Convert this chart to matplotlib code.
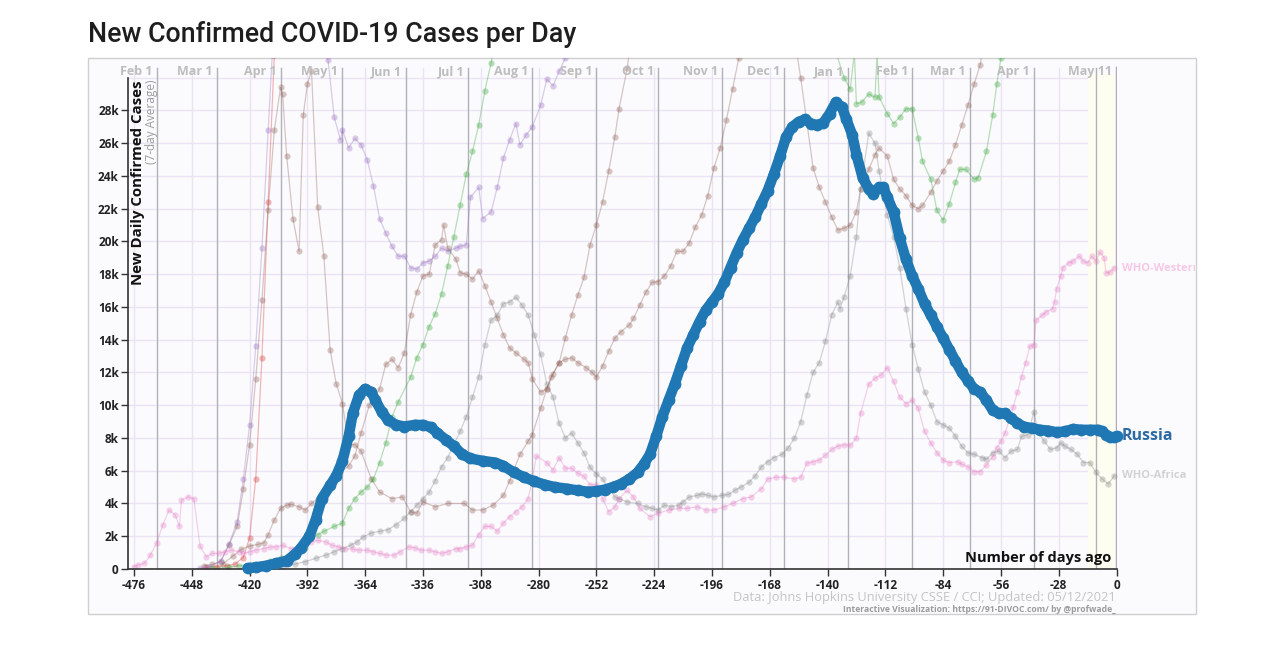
import matplotlib
matplotlib.use('Agg')
import matplotlib.pyplot as plt
from matplotlib.patches import Rectangle
from matplotlib.transforms import Bbox, TransformedBbox

plt.rcParams['font.family'] = ['Open Sans', 'DejaVu Sans']

# ---- data: (days ago, new cases per day in thousands, 7-day avg) ----
russia = [(-421, 0.05), (-417, 0.1), (-412, 0.2), (-407, 0.35), (-402, 0.5), (-398, 0.9),
          (-395, 1.3), (-391, 2.0), (-388, 3.0), (-385, 4.3), (-381, 5.1), (-378, 5.7),
          (-375, 6.6), (-372, 8.1), (-370, 9.5), (-367, 10.6), (-364, 11.0), (-361, 10.8),
          (-359, 10.3), (-356, 9.6), (-353, 9.1), (-349, 8.8), (-345, 8.7), (-340, 8.8),
          (-336, 8.8), (-332, 8.65), (-329, 8.3), (-325, 7.9), (-321, 7.5), (-317, 7.0),
          (-313, 6.75), (-307, 6.6), (-301, 6.5), (-297, 6.3), (-292, 5.9), (-287, 5.6),
          (-282, 5.35), (-277, 5.15), (-272, 5.0), (-266, 4.9), (-261, 4.8), (-256, 4.72),
          (-252, 4.75), (-248, 4.85), (-244, 5.0), (-240, 5.2), (-236, 5.5), (-232, 5.9),
          (-229, 6.4), (-226, 7.0), (-223, 8.1), (-220, 9.3), (-217, 10.3), (-214, 11.3),
          (-211, 12.4), (-208, 13.5), (-205, 14.3), (-202, 15.1), (-199, 15.8), (-196, 16.3),
          (-193, 16.8), (-190, 17.5), (-187, 18.4), (-184, 19.3), (-181, 20.1), (-178, 20.8),
          (-175, 21.5), (-172, 22.3), (-169, 23.1), (-166, 24.1), (-163, 25.2), (-160, 26.4),
          (-157, 27.0), (-154, 27.3), (-151, 27.45), (-148, 27.2), (-145, 27.1), (-142, 27.25),
          (-139, 27.8), (-136, 28.5), (-133, 28.2), (-131, 27.5), (-128, 26.5), (-126, 25.3),
          (-123, 23.9), (-120, 23.2), (-118, 22.9), (-115, 23.3), (-113, 23.3), (-111, 22.7),
          (-108, 21.8), (-105, 20.2), (-102, 18.9), (-99, 17.9), (-96, 17.1), (-93, 16.2),
          (-90, 15.5), (-87, 14.8), (-84, 14.1), (-81, 13.4), (-78, 12.7), (-75, 12.0),
          (-72, 11.5), (-69, 11.0), (-66, 10.8), (-63, 10.3), (-60, 9.7), (-57, 9.5),
          (-54, 9.5), (-51, 9.2), (-48, 8.9), (-45, 8.7), (-41, 8.6), (-37, 8.5), (-33, 8.45),
          (-29, 8.35), (-25, 8.4), (-21, 8.55), (-17, 8.5), (-13, 8.5), (-9, 8.5), (-7, 8.4),
          (-5, 8.2), (-3, 8.05), (-1, 8.05), (0, 8.1)]

red_series = [(-441, 0.1), (-436, 0.15), (-431, 0.2), (-427, 0.3), (-423, 0.7), (-420, 1.9),
              (-417, 5.5), (-414, 12.9), (-411, 22.4), (-408, 31.4), (-400, 40.0)]

brown_a = [(-442, 0.2), (-438, 0.28), (-434, 0.45), (-430, 1.47), (-426, 2.6), (-423, 4.9),
           (-420, 7.6), (-417, 11.6), (-414, 16.4), (-411, 21.9), (-408, 26.8), (-405, 29.4),
           (-404, 29.0), (-402, 25.2), (-399, 21.4), (-396, 19.4), (-394, 27.7), (-392, 29.6),
           (-390, 30.4), (-387, 22.1), (-384, 19.1), (-381, 13.4), (-378, 11.3), (-375, 10.1),
           (-372, 7.6), (-369, 7.6), (-366, 7.2), (-361, 5.5), (-357, 4.7), (-351, 4.3),
           (-346, 4.4), (-342, 3.5), (-339, 3.4), (-336, 4.1), (-330, 3.8), (-324, 4.0),
           (-316, 4.0), (-312, 3.6), (-307, 3.6), (-302, 3.9), (-297, 4.5), (-294, 5.4),
           (-289, 7.0), (-285, 7.8), (-283, 8.2), (-279, 9.8), (-276, 11.0), (-274, 11.7),
           (-270, 12.6), (-267, 14.1), (-264, 15.5), (-261, 16.7), (-258, 17.8), (-255, 19.8),
           (-252, 21.0), (-249, 22.4), (-246, 24.3), (-243, 26.4), (-241, 28.1), (-237, 30.6),
           (-230, 38.0)]

brown_b = [(-433, 0.3), (-428, 0.8), (-424, 1.2), (-420, 1.4), (-416, 1.5), (-413, 1.6),
           (-411, 2.1), (-408, 3.0), (-405, 3.7), (-402, 3.9), (-400, 3.95), (-396, 3.8),
           (-393, 3.6), (-390, 4.0), (-387, 4.3), (-380, 5.0), (-376, 5.9), (-372, 6.3),
           (-369, 6.9), (-366, 8.3), (-362, 10.0), (-357, 11.0), (-354, 12.5), (-351, 12.8),
           (-348, 12.3), (-345, 13.2), (-342, 15.5), (-339, 16.9), (-336, 17.9), (-333, 18.0),
           (-330, 19.8), (-327, 20.1), (-326, 21.0), (-324, 19.6), (-320, 18.9), (-318, 18.1),
           (-315, 18.0), (-312, 17.7), (-309, 18.2), (-306, 17.3), (-303, 16.3), (-300, 15.3),
           (-297, 14.3), (-294, 13.5), (-291, 13.2), (-287, 12.8), (-285, 12.6), (-283, 11.6),
           (-279, 10.8), (-276, 11.0), (-273, 11.9), (-270, 12.6), (-267, 12.8), (-264, 12.9),
           (-261, 12.6), (-257, 12.3), (-254, 12.0), (-252, 11.7), (-249, 12.4), (-246, 13.3),
           (-243, 14.1), (-240, 14.5), (-236, 14.9), (-234, 15.3), (-231, 16.1), (-228, 16.9),
           (-225, 17.5), (-222, 17.55), (-219, 17.9), (-216, 18.5), (-213, 19.4), (-210, 19.4),
           (-207, 19.9), (-204, 20.9), (-201, 21.6), (-198, 22.8), (-195, 24.5), (-192, 25.7),
           (-189, 27.4), (-186, 29.3), (-183, 31.2), (-175, 38.0), (-165, 40.0), (-158, 34.0),
           (-153, 30.0), (-147, 24.5), (-144, 23.3), (-141, 22.4), (-138, 21.5), (-135, 20.7),
           (-132, 20.8), (-129, 21.0), (-126, 21.8), (-124, 23.2), (-120, 24.4), (-117, 25.3),
           (-115, 25.7), (-111, 25.2), (-108, 23.8), (-105, 23.2), (-102, 22.8), (-99, 22.2),
           (-96, 22.0), (-94, 22.2), (-90, 23.0), (-87, 23.7), (-84, 24.3), (-81, 24.9),
           (-78, 25.9), (-75, 27.1), (-72, 28.3), (-69, 29.6), (-66, 30.8), (-60, 36.0)]

purple_series = [(-444, 0.05), (-440, 0.1), (-434, 0.5), (-430, 1.5), (-426, 2.9), (-423, 5.5),
                 (-420, 8.8), (-417, 13.6), (-414, 19.6), (-411, 26.8), (-409, 31.4),
                 (-400, 38.0), (-390, 36.0), (-382, 31.1), (-379, 27.6), (-376, 26.2),
                 (-375, 26.8), (-372, 25.7), (-369, 26.3), (-366, 25.9), (-363, 25.0),
                 (-360, 23.4), (-357, 21.4), (-354, 20.5), (-351, 19.7), (-348, 19.1),
                 (-345, 19.1), (-342, 18.4), (-339, 18.3), (-336, 18.7), (-333, 18.8),
                 (-330, 19.1), (-327, 19.6), (-324, 19.4), (-320, 19.6), (-318, 19.7),
                 (-315, 19.8), (-313, 22.7), (-309, 23.3), (-307, 21.4), (-303, 21.8),
                 (-300, 23.3), (-297, 25.1), (-294, 26.2), (-291, 27.2), (-289, 25.9),
                 (-286, 26.5), (-283, 27.0), (-279, 28.3), (-276, 29.9), (-273, 29.5),
                 (-270, 30.4), (-267, 31.2), (-255, 36.0)]

green_series = [(-438, 0.05), (-430, 0.1), (-425, 0.2), (-420, 0.25), (-415, 0.3), (-410, 0.5),
                (-405, 0.7), (-400, 0.9), (-396, 1.1), (-393, 1.3), (-390, 1.9), (-387, 2.1),
                (-384, 2.3), (-379, 2.6), (-375, 2.8), (-372, 3.7), (-369, 4.3), (-366, 4.7),
                (-363, 5.0), (-360, 5.5), (-357, 6.5), (-354, 7.7), (-351, 9.3), (-348, 10.2),
                (-342, 11.7), (-339, 12.9), (-336, 13.7), (-333, 14.8), (-330, 15.6),
                (-327, 16.8), (-324, 18.5), (-321, 20.3), (-318, 22.2), (-315, 24.1),
                (-312, 25.5), (-309, 27.1), (-306, 29.2), (-303, 30.9), (-290, 40.0),
                (-145, 40.0), (-137, 32.0), (-132, 30.0), (-129, 29.3), (-127, 31.5),
                (-126, 28.4), (-123.5, 28.5), (-120, 29.0), (-117, 28.8), (-116, 31.5),
                (-115, 28.8), (-111, 27.8), (-108, 27.2), (-105, 27.6), (-102, 28.1),
                (-99, 28.1), (-96, 26.3), (-94, 24.9), (-90, 23.8), (-87, 21.9), (-84, 21.3),
                (-81, 22.3), (-78, 23.6), (-76, 24.4), (-73, 24.4), (-69, 23.8), (-67, 23.9),
                (-63, 25.5), (-60, 27.7), (-58, 29.6), (-56, 31.2), (-50, 36.0)]

grey_series = [(-410, 0.1), (-404, 0.2), (-398, 0.3), (-393, 0.45), (-388, 0.65), (-383, 0.85),
               (-379, 1.05), (-375, 1.25), (-371, 1.45), (-368, 1.65), (-365, 1.95), (-361, 2.2),
               (-357, 2.3), (-353, 2.4), (-349, 2.7), (-345, 3.1), (-342, 3.5), (-339, 3.9),
               (-336, 4.3), (-333, 4.7), (-330, 5.4), (-327, 6.25), (-324, 6.8), (-318, 8.4),
               (-315, 9.3), (-312, 10.5), (-309, 11.7), (-306, 13.7), (-303, 15.2),
               (-300, 15.5), (-297, 16.2), (-294, 16.3), (-291, 16.6), (-288, 16.1),
               (-285, 15.5), (-282, 14.3), (-279, 13.1), (-276, 11.3), (-273, 10.5),
               (-270, 8.9), (-267, 8.0), (-264, 8.3), (-261, 7.7), (-258, 7.1), (-255, 6.2),
               (-252, 5.8), (-249, 5.5), (-246, 4.9), (-243, 4.4), (-241, 4.3), (-237, 4.1),
               (-232, 4.0), (-228, 3.8), (-225, 3.7), (-222, 3.6), (-219, 3.9), (-216, 3.8),
               (-212, 3.9), (-210, 4.1), (-207, 4.4), (-203, 4.5), (-201, 4.6), (-198, 4.5),
               (-195, 4.4), (-191, 4.5), (-188, 4.55), (-185, 4.8), (-182, 5.0), (-178, 5.3),
               (-175, 5.7), (-172, 6.25), (-169, 6.55), (-166, 6.8), (-162, 7.0), (-159, 7.4),
               (-156, 8.0), (-153, 9.0), (-150, 10.6), (-147, 12.0), (-144, 12.6),
               (-141, 13.9), (-138, 15.5), (-135, 16.3), (-134, 15.9), (-132, 16.6),
               (-129, 17.9), (-126, 20.3), (-124, 23.2), (-120, 26.6), (-117, 26.0),
               (-115, 24.3), (-111, 21.6), (-108, 20.3), (-105, 18.4), (-102, 15.9),
               (-99, 13.7), (-96, 12.2), (-93, 10.8), (-90, 10.0), (-87, 9.0), (-84, 8.8),
               (-81, 8.6), (-78, 8.1), (-75, 7.5), (-72, 7.1), (-69, 7.0), (-65, 6.8),
               (-63, 6.7), (-60, 7.1), (-57, 7.2), (-54, 6.8), (-51, 7.2), (-48, 7.3),
               (-46, 8.1), (-43, 8.2), (-40, 9.6), (-38, 8.4), (-35, 7.8), (-32, 7.3),
               (-29, 7.4), (-27, 7.7), (-25, 7.5), (-22, 7.3), (-19, 7.0), (-16, 6.5),
               (-13, 6.5), (-10, 5.9), (-7, 5.5), (-4, 5.2), (-1, 5.7)]

pink_series = [(-476, 0.15), (-474, 0.25), (-471, 0.35), (-468, 0.85), (-465, 1.6), (-462, 2.7),
               (-459, 3.6), (-456, 3.3), (-454, 2.6), (-453, 4.2), (-450, 4.4), (-447, 4.3),
               (-444, 1.4), (-441, 0.75), (-438, 0.95), (-435, 0.95), (-432, 1.05),
               (-429, 1.15), (-425, 1.05), (-423, 0.95), (-420, 1.05), (-417, 1.15),
               (-413, 1.25), (-410, 1.35), (-407, 1.35), (-404, 1.45), (-400, 1.25),
               (-396, 1.35), (-393, 1.45), (-390, 1.65), (-387, 1.75), (-383, 1.65),
               (-380, 1.45), (-377, 1.35), (-374, 1.25), (-370, 1.2), (-367, 1.15),
               (-363, 1.15), (-360, 1.05), (-357, 0.95), (-354, 0.85), (-350, 0.85),
               (-347, 1.05), (-343, 1.35), (-340, 1.3), (-337, 1.15), (-333, 1.15),
               (-330, 1.05), (-327, 0.95), (-324, 1.05), (-320, 1.25), (-318, 1.25),
               (-315, 1.35), (-312, 1.45), (-309, 2.1), (-306, 2.6), (-303, 2.6), (-300, 2.3),
               (-297, 2.8), (-294, 3.2), (-291, 3.5), (-288, 3.8), (-285, 4.3), (-283, 5.5),
               (-281, 6.9), (-276, 6.5), (-273, 6.05), (-270, 6.8), (-267, 6.15), (-264, 6.15),
               (-261, 5.85), (-258, 5.65), (-255, 5.15), (-252, 5.15), (-249, 4.3),
               (-246, 3.5), (-243, 3.8), (-241, 4.3), (-237, 4.8), (-234, 4.4), (-231, 3.7),
               (-226, 3.2), (-222, 3.4), (-217, 3.6), (-212, 3.7), (-208, 3.7), (-203, 3.8),
               (-199, 3.6), (-195, 3.6), (-190, 3.8), (-186, 4.0), (-181, 4.3), (-177, 4.4),
               (-172, 4.9), (-169, 5.5), (-165, 5.6), (-161, 5.6), (-156, 5.5), (-153, 5.6),
               (-150, 6.45), (-147, 6.55), (-144, 6.65), (-141, 6.95), (-138, 7.3),
               (-135, 7.5), (-132, 7.6), (-129, 7.55), (-126, 8.0), (-124, 9.5), (-120, 11.3),
               (-117, 11.65), (-114, 11.85), (-111, 12.3), (-108, 11.45), (-105, 10.5),
               (-102, 10.1), (-99, 10.3), (-96, 9.8), (-93, 8.4), (-90, 7.7), (-87, 7.1),
               (-84, 6.65), (-81, 6.5), (-77, 6.55), (-75, 6.4), (-72, 6.25), (-69, 5.95),
               (-66, 5.95), (-63, 6.35), (-60, 6.85), (-58, 7.4), (-56, 7.8), (-54, 8.3),
               (-52, 9.1), (-50, 9.9), (-48, 10.8), (-46, 11.75), (-44, 12.6), (-42, 13.6),
               (-40, 13.7), (-39, 15.2), (-36, 15.5), (-34, 15.7), (-31, 15.9), (-30, 16.3),
               (-29, 17.1), (-27, 17.9), (-26, 18.4), (-23, 18.7), (-21, 18.8), (-18, 19.1),
               (-16, 18.8), (-14, 18.7), (-12, 19.1), (-10, 18.8), (-8, 19.35), (-6, 19.0),
               (-5, 18.05), (-3, 18.15), (-1, 18.4)]

background = [(red_series, '#d62728'), (brown_a, '#8c564b'), (brown_b, '#8c564b'),
              (purple_series, '#9467bd'), (green_series, '#2ca02c'),
              (grey_series, '#7f7f7f'), (pink_series, '#e377c2')]

x_ticks = list(range(-476, 1, 28))
y_ticks = list(range(0, 29, 2))
month_days = [-465, -436, -405, -375, -344, -314, -283, -252, -222, -191, -161, -130, -99,
              -71, -40, -10]
month_labels = ['Feb 1', 'Mar 1', 'Apr 1', 'May 1', 'Jun 1', 'Jul 1', 'Aug 1', 'Sep 1',
                'Oct 1', 'Nov 1', 'Dec 1', 'Jan 1', 'Feb 1', 'Mar 1', 'Apr 1', '']

W, H = 1265, 661
fig = plt.figure(figsize=(W / 100, H / 100), dpi=100)
fig.patch.set_facecolor('white')

# light panel behind the chart
panel = Rectangle((88 / W, 1 - 614 / H), (1196 - 88) / W, (614 - 58) / H,
                  transform=fig.transFigure, facecolor='#fbfbfe', edgecolor='#cfcfcf',
                  lw=1, zorder=-1)
fig.patches.append(panel)

ax = fig.add_axes([128.4 / W, 1 - 569 / H, (1116.5 - 128.4) / W, (569 - 58) / H])
ax.set_facecolor('none')
ax.set_xlim(-478.7, 0)
ax.set_ylim(0, 31.2)

# grid
for yv in range(0, 31, 2):
    ax.axhline(yv, color='#e9e3f3', lw=1, zorder=0)
for xv in x_ticks:
    ax.axvline(xv, ymax=30.6 / 31.2, color='#e9e3f3', lw=1, zorder=0)
ax.axvspan(-14, 0, ymax=30.2 / 31.2, color='#fdfdf1', zorder=0, lw=0)

# month lines and labels
for d, lab in zip(month_days, month_labels):
    ax.axvline(d, ymax=30.6 / 31.2, color='#b3b1b8', lw=1, zorder=1)
    if lab:
        ax.text(d - 2, 30.35, lab, ha='right', va='center', fontsize=9,
                fontweight='bold', color='#bdbdbd')
ax.axvline(0, ymax=30.6 / 31.2, color='#b3a9c4', lw=2.5, zorder=1)
ax.text(-2, 30.35, 'May 11', ha='right', va='center', fontsize=9,
        fontweight='bold', color='#bdbdbd')

# background series
for series, col in background:
    xs = [p[0] for p in series]
    ys = [p[1] for p in series]
    ax.plot(xs, ys, color=col, lw=0.9, alpha=0.33, zorder=2)
    ax.plot(xs, ys, ls='none', marker='o', ms=4.5, color=col, mec='none', alpha=0.33, zorder=2)

# Russia
rx = [p[0] for p in russia]
ry = [p[1] for p in russia]
ax.plot(rx, ry, color='#1f77b4', lw=7.5, marker='o', ms=8.5, mec='none',
        solid_capstyle='round', zorder=5, clip_on=False)

# end labels
ax.text(2.5, 8.1, 'Russia', ha='left', va='center', fontsize=11.5, fontweight='bold',
        color='#2b6aa3')
wl = ax.text(2.5, 18.35, 'WHO-Western Pacific', ha='left', va='center', fontsize=8,
             fontweight='bold', color='#f6c8e6')
wl.set_clip_box(TransformedBbox(Bbox([[0, 0], [1195 / W, 1]]), fig.transFigure))
wl.set_clip_on(True)
ax.text(2.5, 5.7, 'WHO-Africa', ha='left', va='center', fontsize=8, fontweight='bold',
        color='#d2d2d2')

# axes styling
for s in ['top', 'right']:
    ax.spines[s].set_visible(False)
ax.spines['left'].set_bounds(0, 30)
ax.spines['left'].set_color('#333333')
ax.spines['bottom'].set_color('#333333')
ax.spines['left'].set_linewidth(1.2)
ax.spines['bottom'].set_linewidth(1.2)
ax.set_xticks(x_ticks)
ax.set_xticklabels([str(t) for t in x_ticks])
ax.set_yticks(y_ticks)
ax.set_yticklabels(['0' if t == 0 else f'{t}k' for t in y_ticks])
ax.tick_params(axis='both', length=5, width=1, color='#333333', labelsize=8.5,
               labelcolor='#222222', pad=2)
for lab in ax.get_xticklabels() + ax.get_yticklabels():
    lab.set_fontweight('bold')

# texts
fig.text(88 / W, 1 - 35 / H, 'New Confirmed COVID-19 Cases per Day', ha='left', va='center',
         fontsize=19.3, fontweight='medium', family=['Roboto', 'DejaVu Sans'],
         color='#1e1e1e')
fig.text(138 / W, 1 - 80 / H, 'New Daily Confirmed Cases', rotation=90, ha='center',
         va='top', fontsize=10.8, fontweight='bold', color='#111111')
fig.text(152 / W, 1 - 80 / H, '(7-day Average)', rotation=90, ha='center', va='top',
         fontsize=8.5, color='#9a9a9a')
fig.text(1111 / W, 1 - 558 / H, 'Number of days ago', ha='right', va='center',
         fontsize=10.5, fontweight='bold', color='#111111')
fig.text(1116 / W, 1 - 597 / H, 'Data: Johns Hopkins University CSSE / CCI; Updated: 05/12/2021',
         ha='right', va='center', fontsize=9.3, color='#c4c4c4')
fig.text(1116 / W, 1 - 609.5 / H,
         'Interactive Visualization: https://91-DIVOC.com/ by @profwade_',
         ha='right', va='center', fontsize=6.2, fontweight='bold', color='#9c9c9c')

fig.savefig('out.png', dpi=100)
